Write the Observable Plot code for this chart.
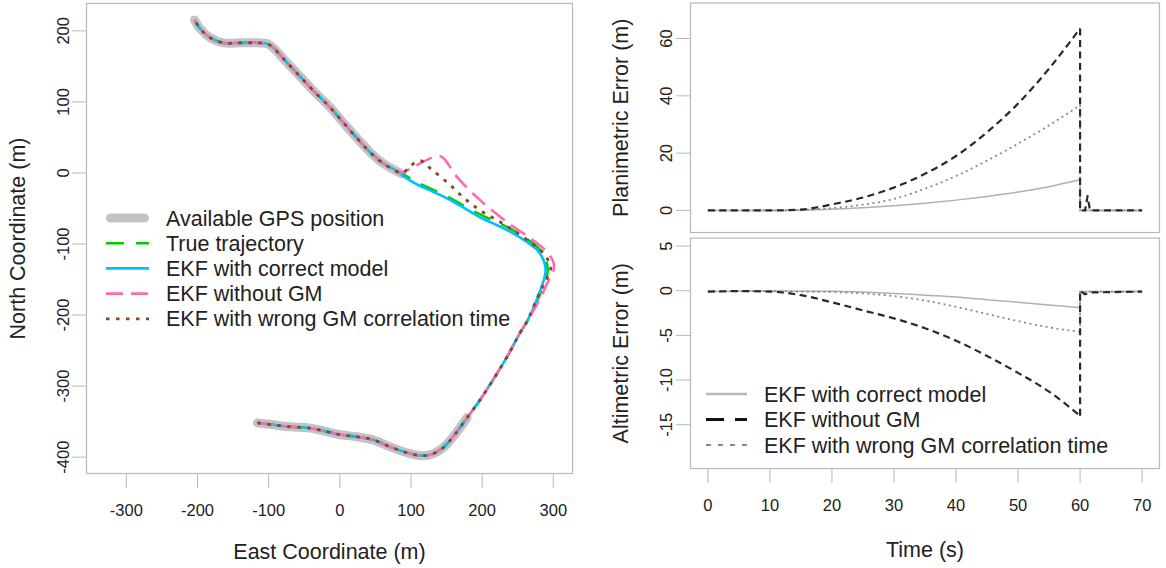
<!DOCTYPE html>
<html><head><meta charset="utf-8">
<script src="https://cdn.jsdelivr.net/npm/d3@7"></script>
<script src="https://cdn.jsdelivr.net/npm/@observablehq/plot@0.6"></script>
<style>
body{margin:0;background:#fff;}
#wrap{position:relative;width:1166px;height:568px;overflow:hidden;background:#fff;}
#wrap > svg, #wrap > figure{position:absolute;margin:0;}
</style></head><body><div id="wrap"></div>
<script>
// ---------- data: trajectory (metres) ----------
const lowerEast  = [-115.8, -93.3, -69.3, -45.4, -23, 1, 24.2, 46.7, 70.6, 94.5, 115.6, 131.1, 145.1, 159.2, 178.8, 197.1, 215.3, 235, 253.2, 264];
const lowerNorth = [-351.7, -354.5, -357.3, -358.7, -362.9, -368.5, -371.3, -375.6, -385.4, -393.8, -398, -395.2, -386.8, -371.3, -344.6, -319.4, -291.2, -258.9, -225.2, -207.4];
const gpsLowerCount = 15;
const upperEast  = [85, 61.5, 43.2, 24.9, 5.2, -13.1, -37, -59.5, -79.2, -93.3, -101.7, -115.8, -139.7, -163.6, -181.9, -196, -204.2];
const upperNorth = [0, 13.1, 28.5, 48.2, 70.6, 91.7, 115.6, 139.6, 160.7, 176.1, 181.7, 183.1, 183.1, 183.1, 190.1, 202.7, 215.3];

const trueEast   = [279.4, 289.3, 292.1, 289.3, 279.4, 264, 244.3, 221.8, 197.9, 174, 151.5, 127.6, 103.7, 85.4];
const trueNorth  = [-175.1, -151.3, -137.2, -121.8, -106.3, -93.7, -81, -69.8, -58.6, -45.9, -33.3, -22, -10.8, 0.4];
const ekfEast    = [278, 286.5, 289.3, 286.5, 278, 264, 244.3, 221.8, 197.9, 174, 151.5, 127.6, 103.7, 85.4];
const ekfNorth   = [-175.1, -151.3, -137.2, -123.2, -109.1, -97.9, -85.3, -74, -62.8, -48.7, -36.1, -24.9, -13.6, -1];
const noGmEast   = [282.3, 292.1, 299.2, 300.6, 292.1, 268.2, 235.9, 197.9, 165.5, 143.9, 134.6, 88];
const noGmNorth  = [-175.1, -154.1, -141.4, -127.5, -112, -92.3, -69.8, -38.9, -6.6, 22.4, 23.3, 0.5];
const wrongEast  = [268.2, 282.3, 292.1, 296.3, 286.5, 268.2, 244.3, 221.8, 197.9, 174, 151.5, 127.6, 113.5, 99.4, 89.6];
const wrongNorth = [-197.6, -165.3, -147, -133, -113.3, -97.9, -81, -67, -53, -34.8, -13.8, 6, 17.2, 10.1, 0.4];

const eastTicks  = [-300, -200, -100, 0, 100, 200, 300];
const northTicks = [-400, -300, -200, -100, 0, 100, 200];

// ---------- data: errors vs time ----------
const timeS        = [0, 5, 10, 15, 20, 25, 30, 35, 40, 45, 50, 55, 60];
const planCorrect  = [0, 0, 0, 0.1, 0.4, 0.9, 1.6, 2.5, 3.6, 4.9, 6.4, 8.3, 10.7];
const planNoGm     = [0, 0, 0, 0.3, 2.1, 4.5, 8.0, 12.8, 19.0, 27.3, 37.3, 49.5, 63.5];
const planWrong    = [0, 0, 0, 0.2, 0.8, 2.0, 4.0, 7.6, 12.0, 17.4, 23.3, 29.7, 36.7];
const altCorrect   = [-0.1, -0.05, 0, -0.05, -0.05, -0.15, -0.3, -0.5, -0.7, -1.0, -1.3, -1.6, -1.9];
const altNoGm      = [-0.1, -0.05, -0.1, -0.5, -1.3, -2.2, -3.1, -4.2, -5.6, -7.3, -9.2, -11.3, -14];
const altWrong     = [-0.1, -0.05, -0.05, -0.1, -0.15, -0.3, -0.6, -1.1, -1.8, -2.6, -3.4, -4.1, -4.6];

const timePost        = [60, 60, 60.8, 61.2, 61.6, 70];
const planCorrectPost = [10.7, 0, 0, 0, 0, 0];
const planNoGmPost    = [63.5, 0, 0, 5, 0, 0];
const planWrongPost   = [36.7, 0, 0, 0, 0, 0];
const altCorrectPost  = [-1.9, -0.1, -0.1, -0.1, -0.1, -0.1];
const altNoGmPost     = [-14, 0, -0.4, -0.3, -0.2, -0.1];
const altWrongPost    = [-4.6, -0.1, -0.2, -0.2, -0.1, -0.1];

const timeTicks = [0, 10, 20, 30, 40, 50, 60, 70];
const planTicks = [0, 20, 40, 60];
const altTicks  = [-15, -10, -5, 0, 5];

// ---------- helpers ----------
const FONT = "'Liberation Sans', Arial, Helvetica, sans-serif";
const TEXT = "#222";
const AXIS = "#b8b8b8";
const TICKFS = 16.5, TITLEFS = 21.5;
const pts = (X, Y) => X.map((x, i) => ({x, y: Y[i]}));
const lowerPts = pts(lowerEast, lowerNorth);
const upperPts = pts(upperEast, upperNorth);
const route = (E, N) => [...lowerPts, ...pts(E, N), ...upperPts];

const baseStyle = {fontFamily: FONT, fontSize: TICKFS + "px", color: TEXT, background: "transparent", overflow: "visible"};

function legendMark(items, {x0, y0, dy, len, gap}) {
  return () => {
    const g = d3.create("svg:g").attr("font-family", FONT).attr("font-size", TITLEFS).attr("fill", TEXT).attr("text-anchor", "start");
    items.forEach((it, i) => {
      const y = y0 + i * dy;
      const inset = it.cap === "round" ? it.width / 2 : 0;
      g.append("line").attr("x1", x0 + inset).attr("x2", x0 + len - inset).attr("y1", y).attr("y2", y)
        .attr("stroke", it.stroke).attr("stroke-width", it.width)
        .attr("stroke-dasharray", it.dash || null).attr("stroke-linecap", it.cap || "butt");
      g.append("text").attr("x", x0 + len + gap).attr("y", y).attr("dy", "0.35em").attr("text-anchor", "start").text(it.label);
    });
    return g.node();
  };
}

function yTickMarks(ticks, dx) {
  return [
    Plot.axisY({ticks, tickSize: 14, tickFormat: () => "", stroke: AXIS, label: null}),
    Plot.text(ticks, {y: d => d, text: d => String(d), frameAnchor: "left", dx, rotate: -90,
      fontSize: TICKFS, fill: TEXT, textAnchor: "middle", lineAnchor: "middle"})
  ];
}
const yTitle = (label, dx) => Plot.text([label], {text: d => d, frameAnchor: "left", dx, rotate: -90,
  fontSize: TITLEFS, fill: TEXT, textAnchor: "middle", lineAnchor: "middle"});
const xTitle = (label, dy) => Plot.text([label], {text: d => d, frameAnchor: "bottom", dy,
  fontSize: TITLEFS, fill: TEXT, textAnchor: "middle", lineAnchor: "middle"});

const S = {
  gps:   {stroke: "#c3c3c3", width: 9, cap: "round"},
  truth: {stroke: "#00cd00", width: 2.6, dash: "18,12"},
  ekf:   {stroke: "#00bfff", width: 2.6},
  nogm:  {stroke: "#ff69b4", width: 2.6, dash: "17,8"},
  wrong: {stroke: "#8b4726", width: 2.8, dash: "3.5,6.5"}
};
const lineOpts = (s, curve = "catmull-rom") => ({x: "x", y: "y", stroke: s.stroke, strokeWidth: s.width,
  strokeDasharray: s.dash, strokeLinecap: s.cap || "butt", strokeLinejoin: "round", curve});

// ---------- left panel ----------
const left = Plot.plot({
  width: 580, height: 568,
  marginLeft: 86, marginRight: 8, marginTop: 3, marginBottom: 95,
  x: {domain: [-356, 327], axis: null},
  y: {domain: [-423, 238.5], axis: null},
  style: baseStyle,
  marks: [
    Plot.frame({stroke: AXIS, strokeWidth: 1.2}),
    Plot.axisX({ticks: eastTicks, tickSize: 15, tickPadding: 16, tickFormat: d => String(d), stroke: AXIS, fill: TEXT, fontSize: TICKFS, label: null}),
    ...yTickMarks(northTicks, -23),
    yTitle("North Coordinate (m)", -68),
    xTitle("East Coordinate (m)", 79),
    Plot.line(lowerPts.slice(0, gpsLowerCount), lineOpts(S.gps)),
    Plot.line(pts([86.8, ...upperEast.slice(1)], [-1, ...upperNorth.slice(1)]), lineOpts(S.gps)),
    Plot.line(route(trueEast, trueNorth), lineOpts(S.truth)),
    Plot.line(route(ekfEast, ekfNorth), lineOpts(S.ekf)),
    Plot.line(route(noGmEast, noGmNorth), lineOpts(S.nogm)),
    Plot.line(route(wrongEast, wrongNorth), lineOpts(S.wrong)),
    legendMark([
      {...S.gps, label: "Available GPS position"},
      {...S.truth, label: "True trajectory"},
      {...S.ekf, label: "EKF with correct model"},
      {...S.nogm, label: "EKF without GM"},
      {...S.wrong, label: "EKF with wrong GM correlation time"}
    ], {x0: 106, y0: 218, dy: 25.2, len: 43, gap: 17})
  ]
});

// ---------- right panels ----------
const R = {
  correct: {stroke: "#b0b0b0", width: 1.5},
  nogm:    {stroke: "#2a2a2a", width: 2.2, dash: "7,4.5"},
  wrong:   {stroke: "#8a8a8a", width: 1.8, dash: "2,3.5"}
};
const errLines = (pre, post) => [
  Plot.line(pts(timeS, pre[0]), lineOpts(R.correct, "monotone-x")),
  Plot.line(pts(timePost, post[0]), lineOpts(R.correct, "linear")),
  Plot.line(pts(timeS, pre[2]), lineOpts(R.wrong, "monotone-x")),
  Plot.line(pts(timePost, post[2]), lineOpts(R.wrong, "linear")),
  Plot.line(pts(timeS, pre[1]), lineOpts(R.nogm, "monotone-x")),
  Plot.line(pts(timePost, post[1]), lineOpts(R.nogm, "linear"))
];

const topRight = Plot.plot({
  width: 586, height: 235,
  marginLeft: 110, marginRight: 7, marginTop: 2.5, marginBottom: 3,
  x: {domain: [-2.8, 72.8], axis: null},
  y: {domain: [-7.7, 72.4], axis: null},
  style: baseStyle,
  marks: [
    Plot.frame({stroke: AXIS, strokeWidth: 1.2}),
    ...yTickMarks(planTicks, -23.5),
    yTitle("Planimetric Error (m)", -69),
    ...errLines([planCorrect, planNoGm, planWrong], [planCorrectPost, planNoGmPost, planWrongPost])
  ]
});

const bottomRight = Plot.plot({
  width: 586, height: 333,
  marginLeft: 110, marginRight: 7, marginTop: 2.5, marginBottom: 100,
  x: {domain: [-2.8, 72.8], axis: null},
  y: {domain: [-19.9, 5.9], axis: null},
  style: baseStyle,
  marks: [
    Plot.frame({stroke: AXIS, strokeWidth: 1.2}),
    Plot.axisX({ticks: timeTicks, tickSize: 15, tickPadding: 16, tickFormat: d => String(d), stroke: AXIS, fill: TEXT, fontSize: TICKFS, label: null}),
    ...yTickMarks(altTicks, -23.5),
    yTitle("Altimetric Error (m)", -69),
    xTitle("Time (s)", 82),
    ...errLines([altCorrect, altNoGm, altWrong], [altCorrectPost, altNoGmPost, altWrongPost]),
    legendMark([
      {stroke: "#b8b8b8", width: 2.5, label: "EKF with correct model"},
      {stroke: "#111111", width: 3, dash: "18,11", label: "EKF without GM"},
      {stroke: "#8a8a8a", width: 2, dash: "5,7", label: "EKF with wrong GM correlation time"}
    ], {x0: 126, y0: 159, dy: 25.5, len: 41, gap: 17})
  ]
});

const wrap = document.getElementById("wrap");
[[left, 0, 0], [topRight, 580, 0], [bottomRight, 580, 235]].forEach(([el, x, y]) => {
  el.style.left = x + "px"; el.style.top = y + "px"; el.style.position = "absolute";
  wrap.appendChild(el);
});
</script></body></html>
